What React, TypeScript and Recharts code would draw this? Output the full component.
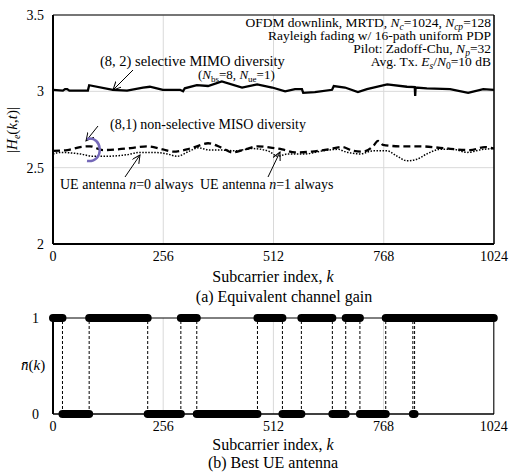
import { CartesianGrid, Line, LineChart, ReferenceLine, XAxis, YAxis } from "recharts";

// (a) equivalent channel gain
const mimoK = [0, 23, 28, 33, 38, 81, 84, 139, 172, 209, 225, 255, 295, 302, 306, 334, 360, 392, 439, 474, 509, 539, 562, 578, 581, 608, 648, 652, 678, 708, 729, 776, 822, 840, 841, 842, 868, 922, 964, 999, 1024];
const mimoGain = [3.01, 3.005, 3.015, 3.015, 3.005, 3.005, 3.04, 3.01, 3.005, 3.025, 3.03, 3.01, 3.01, 3.0, 3.02, 3.04, 3.035, 3.065, 3.025, 3.045, 3.025, 3.0, 3.015, 3.015, 2.99, 2.995, 3.01, 3.035, 3.025, 2.995, 3.015, 3.045, 3.03, 3.027, 2.97, 3.025, 3.02, 3.015, 2.99, 3.015, 3.01];

const ue1K = [0, 33, 63, 86, 116, 149, 186, 218, 255, 279, 311, 334, 360, 392, 416, 446, 476, 509, 532, 562, 601, 639, 671, 697, 720, 743, 755, 766, 806, 852, 899, 968, 1003, 1024];
const ue1Gain = [2.61, 2.615, 2.635, 2.64, 2.615, 2.62, 2.63, 2.64, 2.62, 2.605, 2.62, 2.64, 2.66, 2.63, 2.6, 2.62, 2.64, 2.63, 2.62, 2.6, 2.605, 2.62, 2.635, 2.61, 2.605, 2.64, 2.675, 2.65, 2.64, 2.64, 2.63, 2.615, 2.635, 2.625];

const ue0K = [0, 16, 63, 93, 125, 172, 202, 232, 265, 288, 318, 337, 365, 392, 423, 462, 499, 522, 546, 585, 625, 662, 678, 713, 743, 776, 799, 822, 845, 868, 899, 929, 961, 999, 1024];
const ue0Gain = [2.59, 2.6, 2.59, 2.575, 2.575, 2.585, 2.6, 2.6, 2.59, 2.575, 2.61, 2.63, 2.615, 2.615, 2.61, 2.625, 2.61, 2.575, 2.59, 2.59, 2.61, 2.62, 2.605, 2.59, 2.61, 2.61, 2.575, 2.545, 2.555, 2.59, 2.62, 2.62, 2.6, 2.62, 2.625];

// (b) best UE antenna: starts at 1, flips at each switch point
const firstAntenna = 1;
const switchK = [22, 84, 220, 297, 334, 475, 533, 577, 649, 680, 713, 773, 836, 840];

const xTicks = [0, 256, 512, 768, 1024];
const gainTicks = [2, 2.5, 3, 3.5];
const antennaTicks = [0, 1];

const toRows = (ks: number[], vs: number[]) => ks.map((k, i) => ({ k, g: vs[i] }));
const mimoData = toRows(mimoK, mimoGain);
const ue1Data = toRows(ue1K, ue1Gain);
const ue0Data = toRows(ue0K, ue0Gain);

// build the two runs (n=1 / n=0) with null gaps between segments
const bounds = [0, ...switchK, 1024];
const runsFor = (state: number) => {
  const rows: { k: number; n: number | null }[] = [];
  for (let i = 0; i < bounds.length - 1; i++) {
    const s = i % 2 === 0 ? firstAntenna : 1 - firstAntenna;
    if (s !== state) continue;
    rows.push({ k: bounds[i], n: s }, { k: bounds[i + 1], n: s }, { k: bounds[i + 1] + 0.5, n: null });
  }
  return rows;
};
const run1 = runsFor(1);
const run0 = runsFor(0);

const FONT = '"Liberation Serif", "Times New Roman", serif';
const tickStyle = { fontSize: 14, fill: "#000", fontFamily: FONT };
const pre = { whiteSpace: "pre" as const };

export default function App() {
  return (
    <div style={{ position: "absolute", left: 0, top: 0, width: 509, height: 473, overflow: "hidden", background: "#fff", fontFamily: FONT }}>
      <div style={{ position: "absolute", left: 0, top: 0 }}>
        <LineChart width={509} height={270} margin={{ top: 15, right: 15, left: 0, bottom: 10 }}>
          <CartesianGrid stroke="#d9d9d9" strokeWidth={1} />
          <XAxis dataKey="k" type="number" domain={[0, 1024]} ticks={xTicks} height={16} tickSize={0} tickMargin={7}
            axisLine={{ stroke: "#000", strokeWidth: 2 }} tick={tickStyle} allowDuplicatedCategory={false} />
          <YAxis type="number" domain={[2, 3.5]} ticks={gainTicks} width={53} tickSize={0} tickMargin={9}
            axisLine={{ stroke: "#000", strokeWidth: 2 }} tick={tickStyle} />
          <ReferenceLine y={3.5} stroke="#000" strokeWidth={1} />
          <ReferenceLine x={1024} stroke="#000" strokeWidth={1.5} />
          <Line data={ue0Data} dataKey="g" type="monotone" stroke="#000" strokeWidth={1.5} strokeDasharray="1.5 1.5" dot={false} isAnimationActive={false} />
          <Line data={ue1Data} dataKey="g" type="monotone" stroke="#000" strokeWidth={2.3} strokeDasharray="7 4" dot={false} isAnimationActive={false} />
          <Line data={mimoData} dataKey="g" type="linear" stroke="#000" strokeWidth={2.3} dot={false} isAnimationActive={false} />
        </LineChart>
      </div>

      <div style={{ position: "absolute", left: 0, top: 300 }}>
        <LineChart width={509} height={140} margin={{ top: 18, right: 15, left: 0, bottom: 10 }}>
          <CartesianGrid stroke="#d9d9d9" strokeWidth={1} horizontal={false} />
          <XAxis dataKey="k" type="number" domain={[0, 1024]} ticks={xTicks} height={16} tickSize={0} tickMargin={7}
            axisLine={{ stroke: "#000", strokeWidth: 1.5 }} tick={tickStyle} allowDuplicatedCategory={false} />
          <YAxis type="number" domain={[0, 1]} ticks={antennaTicks} width={53} tickSize={0} tickMargin={14}
            axisLine={{ stroke: "#000", strokeWidth: 2 }} tick={tickStyle} />
          <ReferenceLine y={1} stroke="#000" strokeWidth={1} />
          <ReferenceLine x={1024} stroke="#000" strokeWidth={1} />
          {switchK.map((k) => (
            <ReferenceLine key={k} x={k} stroke="#000" strokeWidth={1} strokeDasharray="3 2" />
          ))}
          <Line data={run1} dataKey="n" type="linear" stroke="#000" strokeWidth={8} strokeLinecap="round" dot={false} isAnimationActive={false} />
          <Line data={run0} dataKey="n" type="linear" stroke="#000" strokeWidth={8} strokeLinecap="round" dot={false} isAnimationActive={false} />
        </LineChart>
      </div>

      <svg width={509} height={473} style={{ position: "absolute", left: 0, top: 0, pointerEvents: "none" }} fontFamily={FONT} fill="#000">
        <defs>
          <marker id="arr" markerUnits="userSpaceOnUse" markerWidth={10} markerHeight={10} refX={8} refY={4} orient="auto">
            <path d="M0,0 L8,4 L0,8" fill="none" stroke="#000" strokeWidth={1} />
          </marker>
        </defs>

        {/* y labels */}
        <text transform="translate(17,130) rotate(-90)" textAnchor="middle" fontSize={15}>
          |<tspan fontStyle="italic">H</tspan><tspan fontStyle="italic" fontSize={10} dy={3}>e</tspan>
          <tspan dy={-3}>(</tspan><tspan fontStyle="italic">k</tspan>,<tspan fontStyle="italic">t</tspan>)|
        </text>
        <text x={21} y={370} fontSize={15}>
          <tspan fontStyle="italic">n̄</tspan>(<tspan fontStyle="italic">k</tspan>)
        </text>

        {/* conditions box text */}
        <g fontSize={13.5} textAnchor="end" style={pre}>
          <text x={491} y={27}>
            OFDM downlink,  MRTD, <tspan fontStyle="italic">N</tspan><tspan fontStyle="italic" fontSize={9.5} dy={3}>c</tspan>
            <tspan dy={-3}>=1024, </tspan><tspan fontStyle="italic">N</tspan><tspan fontStyle="italic" fontSize={9.5} dy={3}>cp</tspan>
            <tspan dy={-3}>=128</tspan>
          </text>
          <text x={491} y={40}>Rayleigh  fading  w/ 16-path uniform  PDP</text>
          <text x={491} y={53}>
            Pilot:  Zadoff-Chu, <tspan fontStyle="italic">N</tspan><tspan fontStyle="italic" fontSize={9.5} dy={3}>p</tspan>
            <tspan dy={-3}>=32</tspan>
          </text>
          <text x={491} y={66}>
            Avg.  Tx. <tspan fontStyle="italic">E</tspan><tspan fontStyle="italic" fontSize={9.5} dy={3}>s</tspan>
            <tspan dy={-3}>/</tspan><tspan fontStyle="italic">N</tspan><tspan fontSize={9.5} dy={3}>0</tspan>
            <tspan dy={-3}>=10 dB</tspan>
          </text>
        </g>

        {/* annotations */}
        <g fontSize={14} style={pre}>
          <text x={100} y={66} fontSize={14.5}>(8, 2) selective  MIMO diversity</text>
          <text x={198} y={79} fontSize={13}>
            (<tspan fontStyle="italic">N</tspan><tspan fontSize={9} dy={3}>bs</tspan><tspan dy={-3}>=8, </tspan>
            <tspan fontStyle="italic">N</tspan><tspan fontSize={9} dy={3}>ue</tspan><tspan dy={-3}>=1)</tspan>
          </text>
          <text x={110} y={129}>(8,1) non-selective  MISO diversity</text>
          <text x={60} y={189}>UE antenna <tspan fontStyle="italic">n</tspan>=0 always</text>
          <text x={200} y={189}>UE antenna <tspan fontStyle="italic">n</tspan>=1 always</text>
        </g>
        <g stroke="#000" strokeWidth={1} fill="none">
          <line x1={133} y1={70} x2={113} y2={90} markerEnd="url(#arr)" />
          <line x1={98} y1={126} x2={86} y2={141} markerEnd="url(#arr)" />
          <line x1={125} y1={177} x2={140} y2={155} markerEnd="url(#arr)" />
          <line x1={268} y1={177} x2={280} y2={152} markerEnd="url(#arr)" />
        </g>
        <path d="M 87 139 C 103 135, 105 163, 87 161" stroke="#7468b8" strokeWidth={2.5} fill="none" />

        {/* axis titles and captions */}
        <g fontSize={16} textAnchor="middle" style={pre}>
          <text x={273} y={282}>Subcarrier index, <tspan fontStyle="italic">k</tspan></text>
          <text x={284} y={302}>(a) Equivalent  channel gain</text>
          <text x={273} y={450}>Subcarrier index, <tspan fontStyle="italic">k</tspan></text>
          <text x={273} y={468}>(b) Best UE antenna</text>
        </g>
      </svg>
    </div>
  );
}
